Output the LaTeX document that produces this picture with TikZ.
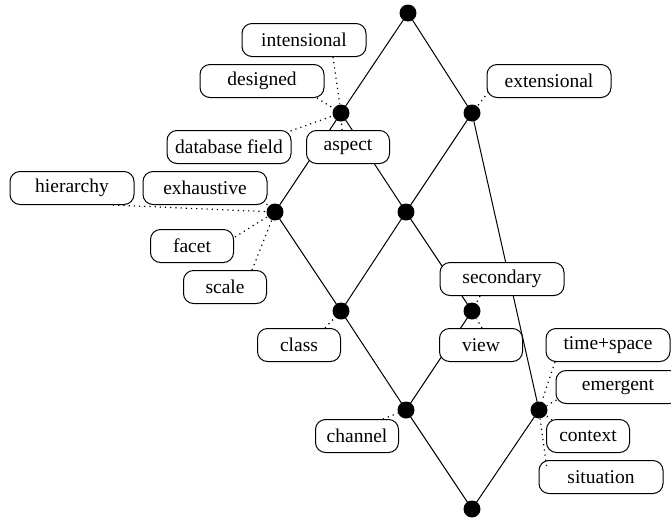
\documentclass[tikz,border=0pt]{standalone}
\usepackage{fontspec}
\setmainfont{Liberation Serif}
\usetikzlibrary{calc}
\pgfdeclarelayer{bg}
\pgfsetlayers{bg,main}
\begin{document}
\begin{tikzpicture}[x=0.5pt,y=-0.5pt,
 pt/.style={circle,fill=black,inner sep=0pt,minimum size=8.5pt},
 lbl/.style={draw,rounded corners=5pt,fill=white,line width=0.5pt,minimum height=16.5pt,inner sep=0pt,font=\fontsize{9.75}{11}\selectfont},
 wide/.style={lbl,minimum width=62pt},
 narrow/.style={lbl,minimum width=41.5pt},
 edge/.style={line width=0.5pt},
 lnk/.style={dotted,line width=0.6pt}]
\useasboundingbox (0,0) rectangle (671,521);
\clip (0,0) rectangle (671,521);
% lattice points
\node[pt] (top) at (408,13) {};
\node[pt] (a) at (341,113) {};
\node[pt] (b) at (472,113) {};
\node[pt] (c) at (275,212) {};
\node[pt] (d) at (406,212) {};
\node[pt] (e) at (341,311) {};
\node[pt] (f) at (472,311) {};
\node[pt] (g) at (406,410) {};
\node[pt] (h) at (539,410) {};
\node[pt] (bot) at (472,509) {};
% labels
\node[wide] (intensional) at (304,40) {intensional};
\node[wide] (designed) at (262,81) {designed};
\node[wide] (dbfield) at (229,147) {database field};
\node[narrow] (aspect) at (348,147) {aspect};
\node[wide] (extensional) at (549,81) {extensional};
\node[wide] (hierarchy) at (72,188) {hierarchy};
\node[wide] (exhaustive) at (205,188) {exhaustive};
\node[narrow] (facet) at (192,246) {facet};
\node[narrow] (scale) at (225,287) {scale};
\node[narrow] (class) at (299,345) {class};
\node[wide] (secondary) at (502,279) {secondary};
\node[narrow] (view) at (481,345) {view};
\node[wide] (timespace) at (608,345) {time+space};
\node[wide] (emergent) at (618,387) {emergent};
\node[narrow] (context) at (588,436) {context};
\node[wide] (situation) at (601,477) {situation};
\node[narrow] (channel) at (357,436) {channel};
% lattice edges
\begin{pgfonlayer}{bg}
\draw[edge] (top.center) -- (a.center);
\draw[edge] (top.center) -- (b.center);
\draw[edge] (a.center) -- (c.center);
\draw[edge] (a.center) -- (d.center);
\draw[edge] (b.center) -- (d.center);
\draw[edge] (b.center) -- (h.center);
\draw[edge] (c.center) -- (e.center);
\draw[edge] (d.center) -- (e.center);
\draw[edge] (d.center) -- (f.center);
\draw[edge] (e.center) -- (g.center);
\draw[edge] (f.center) -- (g.center);
\draw[edge] (g.center) -- (bot.center);
\draw[edge] (h.center) -- (bot.center);
\end{pgfonlayer}
% dotted label links
\draw[lnk] ($(intensional.south)+(29,0)$) -- (a);
\draw[lnk] ($(designed.south)+(55,0)$) -- (a);
\draw[lnk] ($(dbfield.north east)+(-1,1)$) -- (a);
\draw[lnk] ($(aspect.north)+(-6,0)$) -- (a);
\draw[lnk] ($(extensional.west)+(2,11)$) -- (b);
\draw[lnk] ($(hierarchy.south)+(41,0)$) -- (c);
\draw[lnk] ($(exhaustive.south east)+(-1,-1)$) -- (c);
\draw[lnk] ($(facet.east)+(1,-9)$) -- (c);
\draw[lnk] ($(scale.north)+(27,0)$) -- (c);
\draw[lnk] ($(class.north)+(26,0)$) -- (e);
\draw[lnk] ($(secondary.south)+(-22,0)$) -- (f);
\draw[lnk] ($(view.north)+(1,0)$) -- (f);
\draw[lnk] ($(channel.north)+(26,0)$) -- (g);
\draw[lnk] ($(timespace.south)+(-53,0)$) -- (h);
\draw[lnk] ($(emergent.west)+(1,13)$) -- (h);
\draw[lnk] ($(context.north west)+(6,1)$) -- (h);
\draw[lnk] ($(situation.north west)+(8,6)$) -- (h);
\end{tikzpicture}
\end{document}
